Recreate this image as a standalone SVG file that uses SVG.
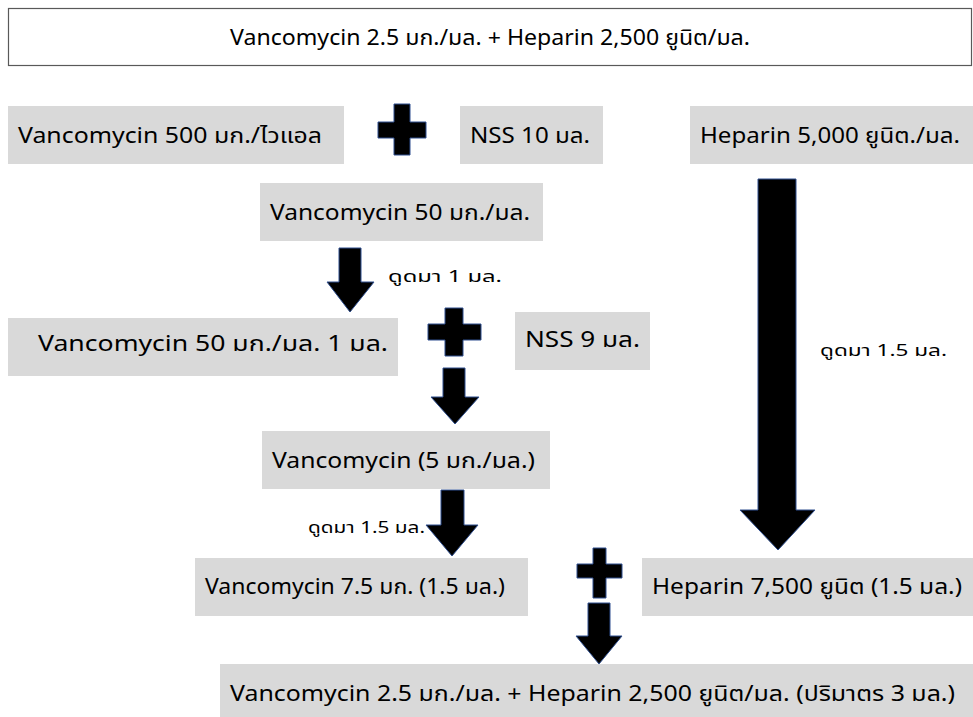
<svg xmlns="http://www.w3.org/2000/svg" width="973" height="717" viewBox="0 0 973 717">
<style>
.box{fill:#d9d9d9}
.t{font-family:"Noto Sans","Noto Sans Thai","DejaVu Sans",sans-serif;font-size:22px;fill:#000}
.s{font-family:"Noto Sans","Noto Sans Thai","DejaVu Sans",sans-serif;font-size:16px;fill:#000}
.sh{fill:#000;stroke:#2f4f8f;stroke-width:1}
</style>
<rect width="973" height="717" fill="#fff"/>
<g id="title">
<rect x="8.5" y="8.5" width="963" height="57" fill="#fff" stroke="#595959" stroke-width="1.2"/>
<text class="t" x="230" y="45" textLength="520" lengthAdjust="spacingAndGlyphs">Vancomycin 2.5 มก./มล. + Heparin 2,500 ยูนิต/มล.</text>
</g>
<g id="vanco500">
<rect class="box" x="8" y="106" width="336" height="58"/>
<text class="t" x="18" y="143" textLength="304" lengthAdjust="spacingAndGlyphs">Vancomycin 500 มก./ไวแอล</text>
</g>
<g id="nss10">
<rect class="box" x="460" y="106" width="143" height="58"/>
<text class="t" x="470" y="143" textLength="120" lengthAdjust="spacingAndGlyphs">NSS 10 มล.</text>
</g>
<g id="heparin5000">
<rect class="box" x="690" y="106" width="283" height="58"/>
<text class="t" x="700" y="143" textLength="260" lengthAdjust="spacingAndGlyphs">Heparin 5,000 ยูนิต./มล.</text>
</g>
<g id="vanco50">
<rect class="box" x="260" y="183" width="283" height="58"/>
<text class="t" x="270" y="220" textLength="260" lengthAdjust="spacingAndGlyphs">Vancomycin 50 มก./มล.</text>
</g>
<g id="vanco50_1ml">
<rect class="box" x="8" y="318" width="390" height="58"/>
<text class="t" x="38" y="351" textLength="350" lengthAdjust="spacingAndGlyphs">Vancomycin 50 มก./มล. 1 มล.</text>
</g>
<g id="nss9">
<rect class="box" x="515" y="312" width="135" height="58"/>
<text class="t" x="525" y="347" textLength="115" lengthAdjust="spacingAndGlyphs">NSS 9 มล.</text>
</g>
<g id="vanco5">
<rect class="box" x="262" y="431" width="288" height="58"/>
<text class="t" x="272" y="468" textLength="263" lengthAdjust="spacingAndGlyphs">Vancomycin (5 มก./มล.)</text>
</g>
<g id="vanco75">
<rect class="box" x="195" y="558" width="333" height="58"/>
<text class="t" x="205" y="594" textLength="300" lengthAdjust="spacingAndGlyphs">Vancomycin 7.5 มก. (1.5 มล.)</text>
</g>
<g id="heparin7500">
<rect class="box" x="642" y="558" width="331" height="58"/>
<text class="t" x="652" y="594" textLength="310" lengthAdjust="spacingAndGlyphs">Heparin 7,500 ยูนิต (1.5 มล.)</text>
</g>
<g id="final">
<rect class="box" x="220" y="664" width="753" height="56"/>
<text class="t" x="230" y="701" textLength="725" lengthAdjust="spacingAndGlyphs">Vancomycin 2.5 มก./มล. + Heparin 2,500 ยูนิต/มล. (ปริมาตร 3 มล.)</text>
</g>
<g id="connectors">
<path class="sh" d="M394,104 H410 V122 H426 V138 H410 V155 H394 V138 H378 V122 H394 Z"/>
<path class="sh" d="M445,308 H463 V324 H481 V340 H463 V356 H445 V340 H428 V324 H445 Z"/>
<path class="sh" d="M593,548 H606 V564 H622 V578 H606 V598 H593 V578 H577 V564 H593 Z"/>
<path class="sh" d="M339,248 H361 V282 H374 L350,312 L327,282 H339 Z"/>
<path class="sh" d="M443,368 H465 V397 H479 L455,424 L431,397 H443 Z"/>
<path class="sh" d="M441,490 H464 V525 H478 L452,556 L426,525 H441 Z"/>
<path class="sh" d="M758,179 H796 V510 H815 L778,550 L740,510 H758 Z"/>
<path class="sh" d="M588,603 H610 V636 H622 L599,664 L576,636 H588 Z"/>
<text class="s" x="388" y="282" textLength="114" lengthAdjust="spacingAndGlyphs">ดูดมา 1 มล.</text>
<text class="s" x="820" y="356" textLength="127" lengthAdjust="spacingAndGlyphs">ดูดมา 1.5 มล.</text>
<text class="s" x="308" y="533" textLength="117" lengthAdjust="spacingAndGlyphs">ดูดมา 1.5 มล.</text>
</g>
</svg>
